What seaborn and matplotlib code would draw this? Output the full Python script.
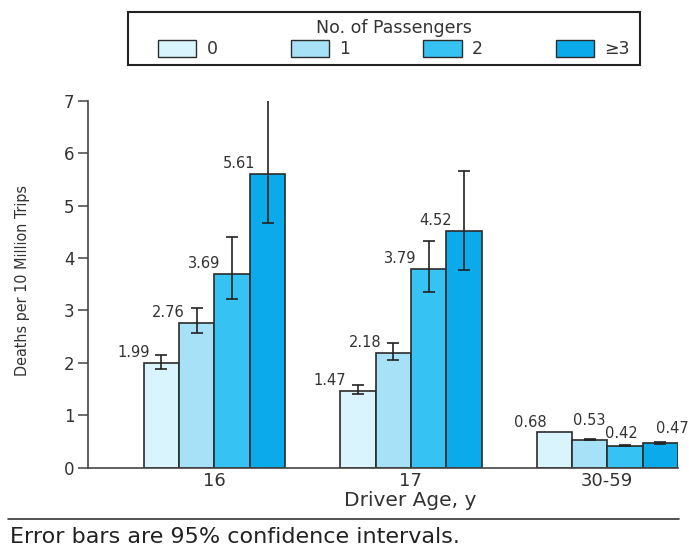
import numpy as np
import pandas as pd
import matplotlib
matplotlib.use("Agg")
import matplotlib.pyplot as plt
from matplotlib.patches import Patch, Rectangle
from matplotlib.lines import Line2D
import seaborn as sns

# ---- data ----
ages = ["16", "17", "30-59"]
passengers = ["0", "1", "2", "\u22653"]
rate_16 = [1.99, 2.76, 3.69, 5.61]
rate_17 = [1.47, 2.18, 3.79, 4.52]
rate_30_59 = [0.68, 0.53, 0.42, 0.47]
ci_low_16 = [1.88, 2.57, 3.22, 4.67]
ci_high_16 = [2.15, 3.05, 4.40, 7.10]
ci_low_17 = [1.40, 2.05, 3.35, 3.78]
ci_high_17 = [1.57, 2.37, 4.32, 5.65]
ci_low_30_59 = [0.68, 0.52, 0.41, 0.45]
ci_high_30_59 = [0.68, 0.54, 0.43, 0.49]
colors = ["#d9f4fd", "#a6e1f8", "#36c2f2", "#0aaaeb"]

rates = [rate_16, rate_17, rate_30_59]
lows = [ci_low_16, ci_low_17, ci_low_30_59]
highs = [ci_high_16, ci_high_17, ci_high_30_59]

rows = []
for a, r, lo, hi in zip(ages, rates, lows, highs):
    for p, v, l, h in zip(passengers, r, lo, hi):
        rows.append({"age": a, "pass": p, "rate": v, "lo": l, "hi": h})
df = pd.DataFrame(rows)

sns.set_style("white")
plt.rcParams["font.family"] = ["DejaVu Sans"]

fig = plt.figure(figsize=(6.89, 5.49), dpi=100)
ax = fig.add_axes([0.128, 0.148, 0.856, 0.6686])

sns.barplot(data=df, x="age", y="rate", hue="pass", order=ages,
            hue_order=passengers, palette=colors, saturation=1,
            width=0.72, gap=0, edgecolor="#2b2b2b", linewidth=1.2,
            errorbar=None, legend=False, ax=ax)

bars = [p for p in ax.patches]
label_dx = [-0.12, 0.0, -0.02, 0.06]
label_dy = [0.19, 0.38, 0.24, 0.27]
for hi_idx, p in enumerate(passengers):
    for ai, a in enumerate(ages):
        bar = bars[hi_idx * len(ages) + ai]
        row = df[(df.age == a) & (df["pass"] == p)].iloc[0]
        xc = bar.get_x() + bar.get_width() / 2
        v = row.rate
        if row.hi - row.lo > 0.001:
            ax.errorbar(xc, v, yerr=[[v - row.lo], [row.hi - v]], fmt="none",
                        ecolor="#222222", elinewidth=1.2, capsize=4,
                        capthick=1.2, zorder=5)
        if ai == 2:
            ax.text(xc + label_dx[hi_idx], v + label_dy[hi_idx],
                    f"{v:.2f}", ha="center", va="center", fontsize=10.5,
                    color="#333333")
        else:
            ax.text(bar.get_x() + 0.03, v + 0.2, f"{v:.2f}", ha="right",
                    va="center", fontsize=10.5, color="#333333")

ax.set_ylim(0, 7)
ax.set_xlim(-0.643, 2.36)
ax.set_yticks(range(0, 8))
ax.tick_params(axis="y", direction="out", length=7, width=1.1,
               color="#444444", labelsize=12, labelcolor="#333333", left=True,
               pad=3)
ax.tick_params(axis="x", length=0, labelsize=13, labelcolor="#333333", pad=3)
for s in ["top", "right"]:
    ax.spines[s].set_visible(False)
for s in ["left", "bottom"]:
    ax.spines[s].set_color("#444444")
    ax.spines[s].set_linewidth(1.2)

ax.set_xlabel("Driver Age, y", fontsize=14.5, color="#333333")
ax.xaxis.set_label_coords((410 - 88) / 590, -0.062)
ax.set_ylabel("Deaths per 10 Million Trips", fontsize=11.5, color="#333333",
              fontstretch="condensed")
ax.yaxis.set_label_coords(-0.098, 0.51)

# legend box
fig.add_artist(Rectangle((128 / 689, 1 - 65 / 549), 512 / 689, 53 / 549,
                         transform=fig.transFigure, fill=False,
                         edgecolor="#222222", linewidth=1.5))
handles = [Patch(facecolor=c, edgecolor="#2b2b2b", linewidth=1.0)
           for c in colors]
leg = fig.legend(handles, passengers, title="No. of Passengers", ncol=4,
                 loc="center", bbox_to_anchor=(0.572, 1 - 38.5 / 549),
                 frameon=False, fontsize=12.5, title_fontsize=12.5,
                 handlelength=2.2, handleheight=1.1, handletextpad=0.6,
                 columnspacing=4.2, borderpad=0.0, labelspacing=0.2)
for t in leg.get_texts():
    t.set_color("#333333")
leg.get_title().set_color("#333333")

fig.add_artist(Line2D([0.012, 0.985], [1 - 519 / 549, 1 - 519 / 549],
                      color="#333333", linewidth=1.2,
                      transform=fig.transFigure))
fig.text(0.014, 1 - 537 / 549, "Error bars are 95% confidence intervals.",
         fontsize=16, color="#222222", va="center", ha="left")

fig.savefig("out.png", dpi=100)
